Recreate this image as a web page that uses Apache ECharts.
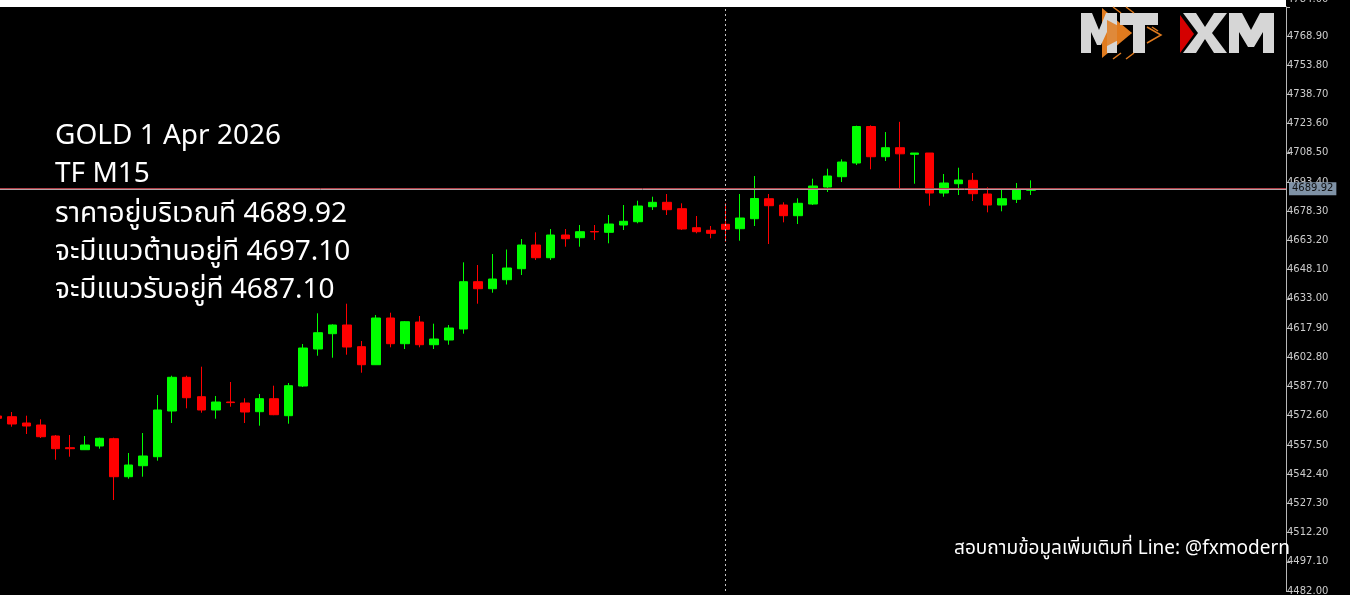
<!DOCTYPE html>
<html>
<head>
<meta charset="utf-8">
<script src="https://cdn.jsdelivr.net/npm/echarts@6/dist/echarts.min.js"></script>
<style>
html,body{margin:0;padding:0;background:#000;overflow:hidden;}
#chart{width:1350px;height:595px;}
</style>
</head>
<body>
<div id="chart"></div>
<script>
// ---- data (GOLD, M15) ----
var opens = [4572.46, 4572.10, 4568.84, 4567.81, 4562.12, 4556.08, 4555.04, 4556.95, 4560.73, 4541.08,
  4546.77, 4551.42, 4575.05, 4592.47, 4582.44, 4575.56, 4579.70, 4579.18, 4574.69, 4581.41,
  4572.62, 4587.97, 4607.10, 4615.01, 4619.50, 4608.29, 4598.98, 4623.12, 4609.84, 4621.05,
  4609.32, 4611.75, 4617.44, 4641.89, 4638.27, 4642.92, 4648.61, 4660.86, 4654.29, 4666.03,
  4664.63, 4667.84, 4667.42, 4671.20, 4672.90, 4680.66, 4682.93, 4679.62, 4669.80, 4668.46,
  4671.56, 4669.28, 4674.45, 4684.79, 4681.54, 4676.01, 4682.05, 4690.84, 4696.17, 4703.25,
  4722.12, 4706.50, 4711.16, 4707.74, 4708.41, 4687.73, 4692.55, 4694.30, 4687.22, 4681.54,
  4684.48, 4689.13];
var closes = [4571.27, 4568.33, 4567.29, 4561.76, 4555.56, 4555.56, 4557.47, 4560.94, 4541.08, 4547.13,
  4551.79, 4575.56, 4592.47, 4581.92, 4575.56, 4579.70, 4579.39, 4574.53, 4581.41, 4573.13,
  4588.13, 4607.61, 4615.52, 4619.50, 4608.13, 4598.98, 4623.12, 4609.84, 4621.21, 4609.32,
  4612.27, 4617.95, 4641.89, 4638.27, 4643.28, 4648.97, 4660.86, 4654.29, 4666.03, 4664.12,
  4667.73, 4667.63, 4671.71, 4673.11, 4681.02, 4682.93, 4679.11, 4669.13, 4667.73, 4666.90,
  4668.97, 4674.82, 4684.90, 4681.17, 4676.01, 4682.42, 4691.36, 4696.53, 4703.76, 4722.12,
  4706.50, 4711.16, 4708.00, 4708.41, 4687.73, 4692.91, 4694.46, 4687.38, 4681.54, 4684.79,
  4689.45, 4689.92];
var lows = [4570.91, 4566.93, 4563.16, 4561.09, 4549.87, 4551.42, 4554.90, 4555.56, 4529.04, 4540.05,
  4541.08, 4549.36, 4568.84, 4576.44, 4574.17, 4571.07, 4577.27, 4568.84, 4567.45, 4572.90,
  4568.48, 4587.45, 4603.63, 4602.60, 4604.15, 4594.85, 4598.82, 4607.98, 4607.10, 4607.98,
  4607.10, 4609.32, 4615.01, 4630.51, 4636.20, 4640.44, 4645.35, 4653.10, 4653.10, 4659.98,
  4659.98, 4663.44, 4661.74, 4668.61, 4672.08, 4678.95, 4676.37, 4668.61, 4666.90, 4664.32,
  4662.56, 4663.08, 4670.68, 4661.37, 4672.59, 4671.71, 4681.54, 4688.26, 4693.43, 4702.21,
  4699.99, 4704.28, 4689.65, 4692.55, 4681.17, 4685.83, 4686.70, 4683.60, 4677.76, 4678.28,
  4682.57, 4686.70];
var highs = [4572.98, 4574.53, 4572.62, 4570.76, 4562.64, 4562.64, 4562.12, 4561.25, 4561.25, 4553.34,
  4563.67, 4583.32, 4593.29, 4593.29, 4597.95, 4582.80, 4590.04, 4581.61, 4583.84, 4588.13,
  4589.52, 4609.68, 4625.55, 4619.86, 4630.51, 4611.23, 4624.67, 4625.86, 4621.57, 4624.16,
  4620.18, 4619.50, 4651.91, 4650.52, 4656.21, 4658.53, 4663.96, 4667.42, 4669.13, 4669.13,
  4671.20, 4671.20, 4676.37, 4681.54, 4683.76, 4685.83, 4687.22, 4682.42, 4675.85, 4670.68,
  4682.42, 4687.22, 4696.53, 4687.22, 4682.93, 4685.00, 4695.13, 4700.30, 4705.16, 4722.53,
  4722.73, 4719.27, 4724.54, 4708.41, 4708.41, 4697.56, 4700.82, 4698.08, 4690.69, 4690.32,
  4692.91, 4694.30];

var bidPrice = 4689.92;
var askPrice = 4690.44;
var separatorIndex = 50;      // period separator (dashed vertical)
var totalSlots = 89;          // bars visible incl. empty right margin
var startTime = '2026-03-31T11:30:00';

// y axis tick labels
var yTickMin = 4482.00;
var yTickMax = 4784.00;
var yTickStep = 15.10;

var infoLines = [
  'GOLD 1 Apr 2026',
  'TF M15',
  'ราคาอยู่บริเวณที 4689.92',
  'จะมีแนวต้านอยู่ที 4697.10',
  'จะมีแนวรับอยู่ที 4687.10'
];
var footerText = 'สอบถามข้อมูลเพิ่มเติมที่ Line: @fxmodern';

// ---- build ----
function pad(n){return (n<10?'0':'')+n;}
var categories = [];
var t0 = new Date(startTime).getTime();
for (var i = 0; i < totalSlots; i++) {
  var d = new Date(t0 + i * 15 * 60000);
  categories.push(d.getFullYear()+'.'+pad(d.getMonth()+1)+'.'+pad(d.getDate())+' '+pad(d.getHours())+':'+pad(d.getMinutes()));
}
var ohlc = [];
for (var j = 0; j < opens.length; j++) {
  ohlc.push([opens[j], closes[j], lows[j], highs[j]]);
}

var FONT = '"Noto Sans", "Noto Sans Thai", "Noto Sans Thai UI", "Noto Looped Thai", sans-serif';
var graphics = [];
graphics.push({type:'rect', shape:{x:0,y:0,width:1286,height:7}, style:{fill:'#ffffff'}, z:100, silent:true});
var lineY = [136, 174, 214, 252, 290];
infoLines.forEach(function(s, k){
  graphics.push({type:'text', x:55, y:lineY[k], z:100, silent:true,
    style:{text:s, fill:'#ffffff', font:'28px '+FONT, textVerticalAlign:'middle', textAlign:'left'}});
});
graphics.push({type:'text', x:1290, y:549, z:100, silent:true,
  style:{text:footerText, fill:'#ffffff', font:'19px '+FONT, textVerticalAlign:'middle', textAlign:'right'}});

// logo
var gray = '#d6d6d6', orange = '#e07b1f';
function poly(pts, fill){ return {type:'polygon', z:100, silent:true, shape:{points:pts}, style:{fill:fill}}; }
function pline(pts){ return {type:'polyline', z:100, silent:true, shape:{points:pts}, style:{stroke:orange, lineWidth:1.5, fill:null}}; }
graphics.push(poly([[1102,8],[1132,33],[1102,58]], orange));
graphics.push(poly([[1081,53],[1081,13],[1092,13],[1099,30],[1106,13],[1117,13],[1117,53],[1107,53],[1107,32],[1101,45],[1097,45],[1091,32],[1091,53]], gray));
graphics.push(poly([[1107,20],[1132,33],[1107,46]], 'rgba(224,123,31,0.85)'));
graphics.push(poly([[1120,13],[1158,13],[1158,25],[1145,25],[1145,53],[1133,53],[1133,25],[1120,25]], gray));
graphics.push(pline([[1113,7],[1121,13]]));
graphics.push(pline([[1126,7],[1134,13]]));
graphics.push(pline([[1113,59],[1121,53]]));
graphics.push(pline([[1126,59],[1134,53]]));
graphics.push(pline([[1147,27],[1161,35],[1147,43]]));
graphics.push(pline([[1152,27],[1158,31]]));
graphics.push(poly([[1183,13],[1196,13],[1205,27],[1214,13],[1227,13],[1212,33],[1227,53],[1214,53],[1205,39],[1196,53],[1183,53],[1198,33]], gray));
graphics.push(poly([[1180,15],[1194,34],[1180,53]], '#d40000'));
graphics.push(poly([[1229,53],[1229,13],[1242,13],[1251,30],[1260,13],[1274,13],[1274,53],[1263,53],[1263,32],[1254,47],[1248,47],[1239,32],[1239,53]], gray));

var chart = echarts.init(document.getElementById('chart'), null, {renderer:'canvas'});
chart.setOption({
  backgroundColor: '#000000',
  animation: false,
  grid: {left: -9.85, right: 64, top: 6.8, bottom: 4, containLabel: false, outerBoundsMode: 'none'},
  xAxis: {type:'category', data: categories, boundaryGap: true, show: false},
  yAxis: {
    type:'value', position:'right', min: yTickMin, max: yTickMax, interval: yTickStep, scale: true,
    axisLine:{show:true, lineStyle:{color:'#b8b8b8', width:1}},
    axisTick:{show:true, length:4, lineStyle:{color:'#b8b8b8'}},
    splitLine:{show:false},
    axisLabel:{color:'#cccccc', fontFamily:'DejaVu Sans', fontSize:10, margin:1, showMaxLabel:true, showMinLabel:true, hideOverlap:false,
      formatter:function(v){ return v >= yTickMax - 0.001 ? '{t|'+v.toFixed(2)+'}' : v.toFixed(2); },
      rich:{t:{color:'#cccccc', fontFamily:'DejaVu Sans', fontSize:10, padding:[0,0,14,0]}}}
  },
  graphic: graphics,
  series: [{
    type:'candlestick',
    data: ohlc,
    barWidth: 9,
    itemStyle:{color:'#00ff00', color0:'#ff0000', borderColor:'#00ff00', borderColor0:'#ff0000', borderColorDoji:'#ff0000', borderWidth:1},
    markLine:{
      silent:true, symbol:['none','none'], animation:false,
      data:[
        {xAxis: categories[separatorIndex], lineStyle:{color:'#c4c4c4', type:[2,3], width:1}, label:{show:false}},
        {yAxis: askPrice, lineStyle:{color:'#b04048', type:'solid', width:1}, label:{show:false}},
        {yAxis: bidPrice, lineStyle:{color:'#b4a4a8', type:'solid', width:1},
         label:{show:true, position:'end', distance:3, formatter: bidPrice.toFixed(2), color:'#111111',
                backgroundColor:'#7f92a6', padding:[2,3,1,3], fontFamily:'DejaVu Sans', fontSize:10}}
      ]
    }
  }]
});
</script>
</body>
</html>
